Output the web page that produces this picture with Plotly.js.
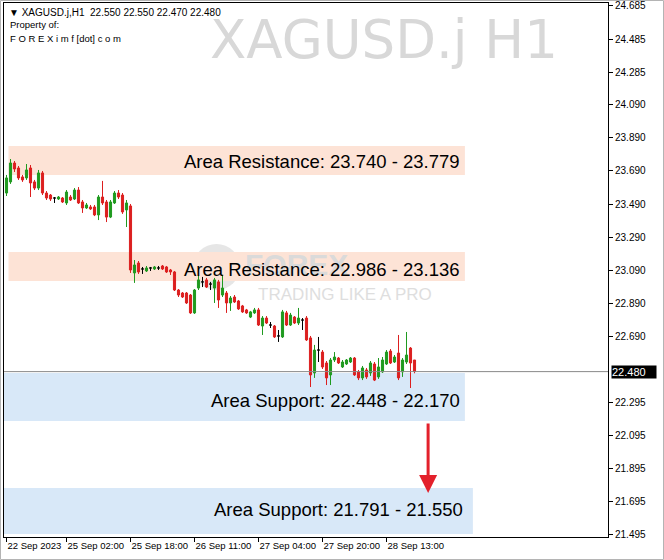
<!DOCTYPE html>
<html>
<head>
<meta charset="utf-8">
<script src="https://cdn.plot.ly/plotly-3.0.1.min.js"></script>
<style>html,body{margin:0;padding:0;background:#fff;}#chart{width:664px;height:560px;}</style>
</head>
<body>
<div id="chart"></div>
<script>
// ---- data (XAGUSD.j, H1) ----
const openP  = [23.557,23.624,23.738,23.708,23.654,23.648,23.708,23.624,23.587,23.678,23.557,23.545,23.527,23.521,23.527,23.497,23.533,23.521,23.575,23.503,23.467,23.473,23.473,23.425,23.533,23.503,23.412,23.497,23.557,23.545,23.455,23.479,23.075,23.135,23.099,23.087,23.105,23.099,23.105,23.117,23.111,23.093,23.081,22.972,22.954,22.954,22.942,22.834,22.984,23.021,23.033,23.008,22.984,23.021,22.942,22.954,22.894,22.930,22.906,22.876,22.852,22.809,22.834,22.852,22.755,22.803,22.761,22.755,22.695,22.689,22.834,22.761,22.809,22.773,22.791,22.803,22.683,22.472,22.610,22.598,22.532,22.460,22.550,22.562,22.508,22.526,22.538,22.562,22.478,22.442,22.490,22.472,22.526,22.448,22.478,22.526,22.604,22.538,22.592,22.478,22.538,22.622,22.550];
const highP  = [23.666,23.762,23.750,23.720,23.666,23.732,23.726,23.636,23.696,23.690,23.569,23.551,23.533,23.539,23.533,23.575,23.545,23.587,23.593,23.515,23.497,23.485,23.485,23.545,23.630,23.515,23.515,23.569,23.575,23.557,23.515,23.491,23.153,23.147,23.111,23.117,23.111,23.117,23.117,23.123,23.117,23.099,23.087,22.978,22.960,22.960,22.948,22.978,23.063,23.051,23.045,23.021,23.045,23.033,23.063,22.966,22.936,22.942,22.912,22.882,22.858,22.846,22.864,22.864,22.815,22.815,22.779,22.761,22.731,22.852,22.846,22.834,22.815,22.864,22.803,22.815,22.695,22.641,22.689,22.610,22.544,22.562,22.598,22.568,22.550,22.556,22.568,22.568,22.490,22.514,22.502,22.544,22.538,22.562,22.568,22.610,22.616,22.580,22.701,22.562,22.719,22.628,22.550];
const lowP   = [23.539,23.612,23.684,23.636,23.624,23.636,23.533,23.575,23.575,23.545,23.515,23.509,23.497,23.515,23.497,23.485,23.509,23.515,23.491,23.437,23.461,23.455,23.418,23.394,23.485,23.382,23.406,23.491,23.521,23.431,23.352,23.075,23.015,23.069,23.069,23.081,23.087,23.093,23.093,23.093,23.075,23.063,22.966,22.930,22.924,22.888,22.828,22.828,22.972,22.990,22.984,22.972,22.894,22.864,22.930,22.834,22.846,22.894,22.852,22.834,22.828,22.803,22.828,22.755,22.701,22.767,22.743,22.683,22.659,22.683,22.755,22.755,22.767,22.761,22.731,22.665,22.387,22.442,22.538,22.496,22.399,22.399,22.538,22.526,22.502,22.520,22.532,22.454,22.429,22.429,22.436,22.454,22.423,22.436,22.472,22.520,22.526,22.532,22.429,22.448,22.526,22.381,22.470];
const closeP = [23.648,23.738,23.702,23.648,23.636,23.696,23.618,23.587,23.678,23.557,23.527,23.521,23.527,23.533,23.503,23.563,23.515,23.575,23.497,23.467,23.485,23.461,23.425,23.533,23.497,23.412,23.503,23.557,23.533,23.443,23.497,23.093,23.123,23.081,23.099,23.105,23.105,23.111,23.105,23.099,23.081,23.081,22.972,22.942,22.930,22.894,22.834,22.972,23.033,23.021,22.990,23.008,23.033,22.912,22.984,22.894,22.924,22.900,22.858,22.840,22.834,22.840,22.852,22.761,22.803,22.773,22.761,22.689,22.695,22.840,22.761,22.821,22.773,22.803,22.791,22.671,22.460,22.610,22.610,22.508,22.442,22.550,22.568,22.532,22.538,22.550,22.562,22.460,22.442,22.502,22.448,22.532,22.429,22.508,22.550,22.598,22.532,22.568,22.442,22.550,22.580,22.532,22.480];

// time axis labels (bar index where each label sits)
const timeTickBars   = [0, 15, 31, 47, 63, 79, 95];
const timeTickLabels = ["22 Sep 2023","25 Sep 02:00","25 Sep 18:00","26 Sep 11:00","27 Sep 04:00","27 Sep 20:00","28 Sep 13:00"];

// price axis labels
const priceTickVals = [24.685,24.485,24.285,24.090,23.890,23.690,23.490,23.290,23.090,22.890,22.690,22.295,22.095,21.895,21.695,21.495];
const priceTickText = ["24.685","24.485","24.285","24.090","23.890","23.690","23.490","23.290","23.090","22.890","22.690","22.295","22.095","21.895","21.695","21.495"];

// zone captions
const zoneLabels = ["Area Resistance: 23.740 - 23.779","Area Resistance: 22.986 - 23.136","Area Support: 22.448 - 22.170","Area Support: 21.791 - 21.550"];
const lastQuote = {open:"22.550", high:"22.550", low:"22.470", close:"22.480"};
const lastPrice = 22.480;

// ---- build traces ----
const idx = openP.map((_, i) => i);
function subset(cond){
  const s = {x:[],o:[],h:[],l:[],c:[]};
  idx.forEach(i => { if (cond(i)) { s.x.push(i); s.o.push(openP[i]); s.h.push(highP[i]); s.l.push(lowP[i]); s.c.push(closeP[i]); } });
  return s;
}
const GREEN = '#1f9a1f', RED = '#dc1f1f', BLACK = '#000000';
function candle(s, color){
  return {type:'candlestick', x:s.x, open:s.o, high:s.h, low:s.l, close:s.c,
    increasing:{line:{color:color,width:1}, fillcolor:color},
    decreasing:{line:{color:color,width:1}, fillcolor:color},
    whiskerwidth:0, hoverinfo:'skip', showlegend:false};
}
const up = subset(i => closeP[i] > openP[i]);
const dn = subset(i => closeP[i] < openP[i]);
const dj = subset(i => closeP[i] === openP[i]);
const traces = [candle(up, GREEN), candle(dn, RED), candle(dj, BLACK)];

// pixel helpers for decorative (paper-referenced) items
const PL = 4, PR = 608, PT = 3, PB = 537;
const px = v => (v - PL) / (PR - PL);
const py = v => (PB - v) / (PB - PT);

const RES_FILL = '#fde3d6', SUP_FILL = '#d8e8f8';
const shapes = [
  {type:'rect', layer:'below', xref:'x', yref:'y', x0:0.5, x1:114.6, y0:23.666, y1:23.841, fillcolor:RES_FILL, line:{width:0}},
  {type:'rect', layer:'below', xref:'x', yref:'y', x0:0.5, x1:114.6, y0:23.026, y1:23.201, fillcolor:RES_FILL, line:{width:0}},
  {type:'rect', layer:'below', xref:'x', yref:'y', x0:-0.625, x1:114.6, y0:22.182, y1:22.472, fillcolor:SUP_FILL, line:{width:0}},
  {type:'rect', layer:'below', xref:'x', yref:'y', x0:-0.625, x1:116.6, y0:21.501, y1:21.778, fillcolor:SUP_FILL, line:{width:0}},
  // logo disc
  {type:'circle', layer:'below', xref:'paper', yref:'paper', x0:px(193), x1:px(240), y0:py(290), y1:py(244), fillcolor:'#e6e6e6', line:{width:0}},
  // current price line
  {type:'line', xref:'paper', yref:'y', x0:0, x1:1, y0:lastPrice, y1:lastPrice, line:{color:'#8a8a8a', width:1}},
  // outer frame
  {type:'rect', xref:'paper', yref:'paper', x0:px(0.5), x1:px(663.5), y0:py(559.5), y1:py(0.5), line:{color:'#b4b4b4', width:1}, fillcolor:'rgba(0,0,0,0)'}
];

const F = 'Liberation Sans, Arial, sans-serif';
const annotations = [
  // watermarks
  {xref:'paper', yref:'paper', x:px(560), y:py(40), xanchor:'right', yanchor:'middle', text:'XAGUSD.j H1', showarrow:false, font:{family:'DejaVu Sans', size:53, color:'#d8d8d8'}},
  {xref:'paper', yref:'paper', x:px(243), y:py(264), xanchor:'left', yanchor:'middle', text:'<b>FOREX</b>', showarrow:false, font:{family:F, size:30, color:'#dadada'}},
  {xref:'paper', yref:'paper', x:px(345), y:py(294), xanchor:'center', yanchor:'middle', text:'TRADING LIKE A PRO', showarrow:false, font:{family:F, size:17, color:'#dedede'}},
  // header
  {xref:'paper', yref:'paper', x:px(7), y:py(12), xanchor:'left', yanchor:'middle', showarrow:false,
   text:'\u25BC XAGUSD.j,H1\u00a0\u00a0' + [lastQuote.open,lastQuote.high,lastQuote.low,lastQuote.close].join(' '), font:{family:F, size:10, color:'#000'}},
  {xref:'paper', yref:'paper', x:px(8), y:py(25), xanchor:'left', yanchor:'middle', showarrow:false, text:'Property of:', font:{family:F, size:9.5, color:'#000'}},
  {xref:'paper', yref:'paper', x:px(8), y:py(38), xanchor:'left', yanchor:'middle', showarrow:false, text:'F O R E X i m f [dot] c o m', font:{family:F, size:9.5, color:'#000'}},
  // zone captions
  {xref:'x', yref:'y', x:113.9, y:23.750, xanchor:'right', yanchor:'middle', showarrow:false, text:zoneLabels[0], font:{family:F, size:18.5, color:'#000'}},
  {xref:'x', yref:'y', x:113.9, y:23.093, xanchor:'right', yanchor:'middle', showarrow:false, text:zoneLabels[1], font:{family:F, size:18.5, color:'#000'}},
  {xref:'x', yref:'y', x:113.9, y:22.303, xanchor:'right', yanchor:'middle', showarrow:false, text:zoneLabels[2], font:{family:F, size:18.5, color:'#000'}},
  {xref:'x', yref:'y', x:114.6, y:21.646, xanchor:'right', yanchor:'middle', showarrow:false, text:zoneLabels[3], font:{family:F, size:18.5, color:'#000'}},
  // red arrow
  {xref:'x', yref:'y', axref:'x', ayref:'y', x:105.4, y:21.748, ax:105.4, ay:22.176, text:'', showarrow:true, arrowhead:2, arrowsize:1.2, arrowwidth:3, arrowcolor:'#e3202b', standoff:0},
  // current price tag
  {xref:'paper', yref:'y', x:1, y:lastPrice, xanchor:'left', yanchor:'middle', xshift:3, showarrow:false, text:lastPrice.toFixed(3), width:44, height:12, align:'left', bgcolor:'#000', borderpad:0, font:{family:F, size:11, color:'#fff'}}
];

const layout = {
  width:664, height:560,
  margin:{l:PL, r:664-PR, t:PT, b:560-PB, pad:0},
  paper_bgcolor:'#ffffff', plot_bgcolor:'#ffffff',
  showlegend:false, hovermode:false, dragmode:false,
  boxgap:0.25,
  xaxis:{type:'linear', range:[-0.625, 150.375], showgrid:false, zeroline:false,
    showline:true, mirror:true, linecolor:'#000', linewidth:1,
    ticks:'outside', ticklen:4, tickcolor:'#000', tickangle:0, automargin:false,
    tickmode:'array', tickvals:timeTickBars, ticktext:timeTickLabels,
    ticklabelposition:'outside right', tickfont:{family:F, size:9.5, color:'#000'},
    rangeslider:{visible:false}, fixedrange:true},
  yaxis:{side:'right', range:[21.4826, 24.703], showgrid:false, zeroline:false,
    showline:true, mirror:true, linecolor:'#000', linewidth:1, automargin:false,
    ticks:'outside', ticklen:4, tickcolor:'#000',
    tickmode:'array', tickvals:priceTickVals, ticktext:priceTickText,
    tickfont:{family:F, size:10, color:'#000'}, fixedrange:true},
  shapes:shapes, annotations:annotations
};

Plotly.newPlot('chart', traces, layout, {displayModeBar:false, staticPlot:true});
</script>
</body>
</html>
